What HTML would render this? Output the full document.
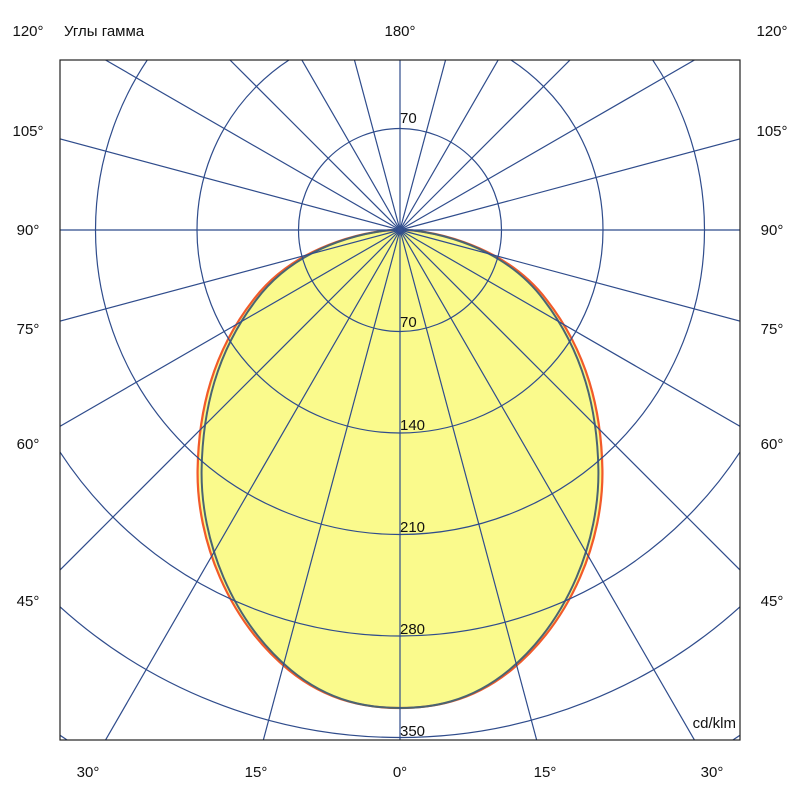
<!DOCTYPE html>
<html><head><meta charset="utf-8"><style>
html,body{margin:0;padding:0;background:#fff;overflow:hidden;width:800px;height:800px}
svg{display:block}
text{font-family:"Liberation Sans",Arial,sans-serif;font-size:15px;fill:#111}
</style></head><body>
<svg width="800" height="800" viewBox="0 0 800 800" xmlns="http://www.w3.org/2000/svg">
<defs><clipPath id="c"><rect x="60" y="60" width="680" height="680"/></clipPath>
<path id="curve" d="M400,230 C380,229 300,240 255,300 C215,352 201,410 200,470 C199,540 230,620 290,670 C330,703 370,708 400,708 C430,708 470,703 510,670 C570,620 601,540 600,470 C599,410 585,352 545,300 C500,240 420,229 400,230 Z"/></defs>
<g clip-path="url(#c)">
<use href="#curve" fill="#fafa8c" stroke="#f25a2a" stroke-width="2.2" transform="translate(400,470) scale(1.012,1) translate(-400,-470)"/>
<use href="#curve" fill="none" stroke="#4a6472" stroke-width="2" transform="translate(400,470) scale(0.992,1) translate(-400,-470)"/>
<g fill="none" stroke="#2f4c8c" stroke-width="1.2">
<circle cx="400" cy="230" r="101.5"/>
<circle cx="400" cy="230" r="203"/>
<circle cx="400" cy="230" r="304.5"/>
<circle cx="400" cy="230" r="406"/>
<circle cx="400" cy="230" r="507.5"/>
<circle cx="400" cy="230" r="609"/>
<g id="r">
<line x1="400" y1="230" x2="400" y2="1230"/>
<line x1="400" y1="230" x2="400" y2="1230" transform="rotate(15 400 230)"/>
<line x1="400" y1="230" x2="400" y2="1230" transform="rotate(30 400 230)"/>
<line x1="400" y1="230" x2="400" y2="1230" transform="rotate(45 400 230)"/>
<line x1="400" y1="230" x2="400" y2="1230" transform="rotate(60 400 230)"/>
<line x1="400" y1="230" x2="400" y2="1230" transform="rotate(75 400 230)"/>
<line x1="400" y1="230" x2="400" y2="1230" transform="rotate(90 400 230)"/>
<line x1="400" y1="230" x2="400" y2="1230" transform="rotate(105 400 230)"/>
<line x1="400" y1="230" x2="400" y2="1230" transform="rotate(120 400 230)"/>
<line x1="400" y1="230" x2="400" y2="1230" transform="rotate(135 400 230)"/>
<line x1="400" y1="230" x2="400" y2="1230" transform="rotate(150 400 230)"/>
<line x1="400" y1="230" x2="400" y2="1230" transform="rotate(165 400 230)"/>
</g>
<use href="#r" transform="rotate(180 400 230)"/>
</g>
<circle cx="400" cy="230" r="3" fill="#34508f"/>
</g>
<rect x="60" y="60" width="680" height="680" fill="none" stroke="#222" stroke-width="1.2"/>
<text x="400" y="123">70</text>
<text x="400" y="327">70</text>
<text x="400" y="430">140</text>
<text x="400" y="532">210</text>
<text x="400" y="634">280</text>
<text x="400" y="736">350</text>
<text x="736" y="728" text-anchor="end">cd/klm</text>
<text x="28" y="36" text-anchor="middle">120°</text>
<text x="64" y="36">Углы гамма</text>
<text x="400" y="36" text-anchor="middle">180°</text>
<text x="772" y="36" text-anchor="middle">120°</text>
<g text-anchor="middle">
<text x="28" y="136">105°</text><text x="772" y="136">105°</text>
<text x="28" y="235">90°</text><text x="772" y="235">90°</text>
<text x="28" y="334">75°</text><text x="772" y="334">75°</text>
<text x="28" y="449">60°</text><text x="772" y="449">60°</text>
<text x="28" y="606">45°</text><text x="772" y="606">45°</text>
<text x="88" y="777">30°</text>
<text x="256" y="777">15°</text>
<text x="400" y="777">0°</text>
<text x="545" y="777">15°</text>
<text x="712" y="777">30°</text>
</g>
</svg>
</body></html>
